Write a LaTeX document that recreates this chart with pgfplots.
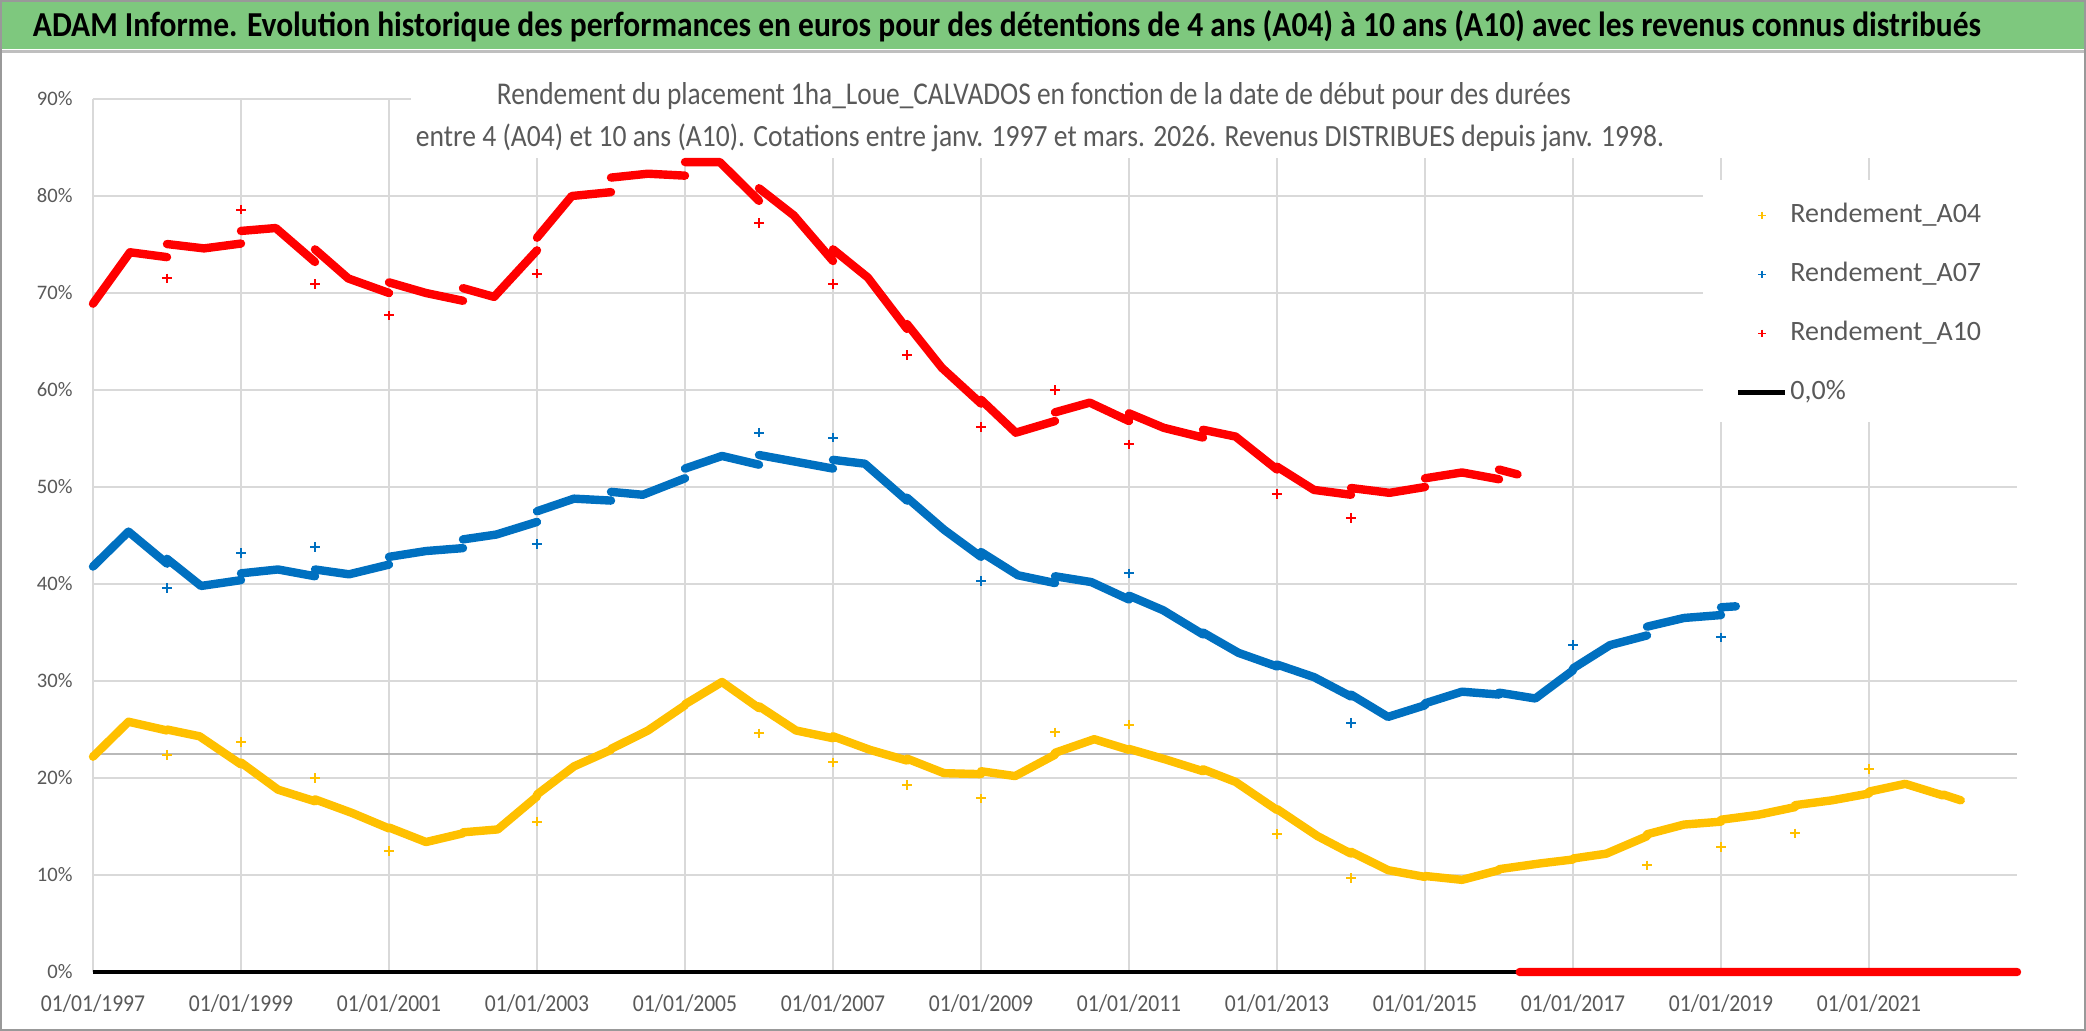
\documentclass[border=0pt]{standalone}
\usepackage{pgfplots}
\pgfplotsset{compat=1.18}
\usepackage{fontspec}
\setmainfont{Carlito}
\definecolor{ttl}{RGB}{126,200,126}
\definecolor{txt}{RGB}{89,89,89}
\definecolor{grd}{RGB}{217,217,217}
\definecolor{cA}{RGB}{255,192,0}
\definecolor{cB}{RGB}{0,112,192}
\definecolor{cC}{RGB}{255,0,0}
\newcommand{\xl}[1]{\scalebox{1}[1.12]{#1}}

\begin{document}
\begin{tikzpicture}
% frame and title bar (1 px of the reference = 0.5pt)
\begin{scope}[x=0.5pt,y=-0.5pt]
\useasboundingbox (0,0) rectangle (2086,1031);
\fill[white] (0,0) rectangle (2086,1031);
\fill[ttl] (0,0) rectangle (2086,49);
\draw[gray!50, line width=1.5pt] (0,52) -- (2086,52);
\draw[gray!80, line width=1pt] (1,1) rectangle (2085,1030);
\end{scope}

\begin{axis}[
  at={(46.5pt,-486pt)}, anchor=south west,
  width=962pt, height=436.5pt, scale only axis,
  xmin=1997, xmax=2023, ymin=0, ymax=90,
  xtick={1997,1999,...,2021},
  xticklabels={\xl{01/01/1997},\xl{01/01/1999},\xl{01/01/2001},\xl{01/01/2003},\xl{01/01/2005},\xl{01/01/2007},\xl{01/01/2009},\xl{01/01/2011},\xl{01/01/2013},\xl{01/01/2015},\xl{01/01/2017},\xl{01/01/2019},\xl{01/01/2021}},
  ytick={0,10,...,90},
  yticklabel={\pgfmathprintnumber{\tick}\%},
  /pgf/number format/assume math mode=true,
  grid=major, major grid style={grd, line width=1pt},
  axis line style={draw=none}, tick style={draw=none},
  yticklabel style={font=\fontsize{10.3}{12}\selectfont, text=txt, anchor=east, inner sep=0pt, xshift=-10pt},
  xticklabel style={font=\fontsize{10.8}{12}\selectfont, text=txt, anchor=center, inner sep=0pt, yshift=-16pt},
  clip=false, unbounded coords=jump,
  legend cell align=left,
  legend image code/.code={\path (0pt,0pt) (23.5pt,0pt); \draw[#1] plot coordinates {(11.75pt,0pt)};},
  legend style={at={(rel axis cs:0.8537,0.885)}, anchor=north west, draw=none, fill=none,
    inner sep=0pt, row sep=14pt, font=\fontsize{14}{16}\selectfont, text=txt,
    nodes={inner sep=1.25pt, text height=10pt, text depth=3pt}},
]
% white boxes behind the title and the legend
\fill[white] (axis cs:2001.3,83.9) rectangle (axis cs:2023.3,91);
\fill[white] (axis cs:2018.76,56.7) rectangle (axis cs:2023.3,81.65);

\addplot[gray!55, line width=1pt, forget plot] coordinates {(1997,22.5) (2023,22.5)};
\addplot[black, line width=2.2pt, forget plot] coordinates {(1997,0) (2023,0)};

% Rendement_A04
\addplot[cA, line width=4.2pt, line cap=round, line join=round, forget plot] coordinates {
(1997.0,22.2) (1997.48,25.8) (1998.0,24.9) (1998.0,nan)
(1998.0,25.0) (1998.44,24.3) (1999.0,21.4) (1999.0,nan)
(1999.0,21.6) (1999.5,18.8) (2000.0,17.6) (2000.0,nan)
(2000.0,17.8) (2000.5,16.4) (2001.0,14.8) (2001.0,nan)
(2001.0,14.9) (2001.5,13.4) (2002.0,14.3) (2002.0,nan)
(2002.0,14.4) (2002.47,14.7) (2003.0,18.1) (2003.0,nan)
(2003.0,18.3) (2003.5,21.2) (2004.0,22.9) (2004.0,nan)
(2004.0,23.0) (2004.5,24.9) (2005.0,27.5) (2005.0,nan)
(2005.0,27.6) (2005.5,29.9) (2006.0,27.2) (2006.0,nan)
(2006.0,27.4) (2006.5,24.9) (2007.0,24.1) (2007.0,nan)
(2007.0,24.3) (2007.5,22.9) (2008.0,21.8) (2008.0,nan)
(2008.0,22.0) (2008.5,20.5) (2009.0,20.4) (2009.0,nan)
(2009.0,20.7) (2009.46,20.2) (2010.0,22.4) (2010.0,nan)
(2010.0,22.6) (2010.53,24.0) (2011.0,22.9) (2011.0,nan)
(2011.0,23.0) (2011.5,21.9) (2012.0,20.7) (2012.0,nan)
(2012.0,20.9) (2012.44,19.6) (2013.0,16.7) (2013.0,nan)
(2013.0,16.8) (2013.55,14.0) (2014.0,12.2) (2014.0,nan)
(2014.0,12.4) (2014.5,10.5) (2015.0,9.8) (2015.0,nan)
(2015.0,9.9) (2015.5,9.5) (2016.0,10.5) (2016.0,nan)
(2016.0,10.6) (2016.56,11.2) (2017.0,11.6) (2017.0,nan)
(2017.0,11.7) (2017.45,12.2) (2018.0,14.0) (2018.0,nan)
(2018.0,14.2) (2018.5,15.2) (2019.0,15.5) (2019.0,nan)
(2019.0,15.7) (2019.5,16.2) (2020.0,17.0) (2020.0,nan)
(2020.0,17.2) (2020.5,17.7) (2021.0,18.4) (2021.0,nan)
(2021.0,18.6) (2021.49,19.4) (2022.0,18.2) (2022.0,nan)
(2022.0,18.3) (2022.24,17.7)
};
\addplot[cA, only marks, mark=+, mark size=2.4pt, mark options={line width=1pt}, forget plot] coordinates {
(1998,22.4) (1999,23.7) (2000,20.0) (2001,12.5) (2003,15.5) (2006,24.6) (2007,21.6)
(2008,19.3) (2009,17.9) (2010,24.7) (2011,25.5) (2013,14.2) (2014,9.7) (2018,11.0)
(2019,12.9) (2020,14.3) (2021,20.9)
};

% Rendement_A07
\addplot[cB, line width=4.2pt, line cap=round, line join=round, forget plot] coordinates {
(1997.0,41.8) (1997.48,45.4) (1998.0,42.1) (1998.0,nan)
(1998.0,42.6) (1998.46,39.8) (1999.0,40.4) (1999.0,nan)
(1999.0,41.1) (1999.5,41.5) (2000.0,40.8) (2000.0,nan)
(2000.0,41.5) (2000.46,41.0) (2001.0,42.0) (2001.0,nan)
(2001.0,42.8) (2001.5,43.4) (2002.0,43.7) (2002.0,nan)
(2002.0,44.6) (2002.45,45.1) (2003.0,46.4) (2003.0,nan)
(2003.0,47.5) (2003.5,48.8) (2004.0,48.6) (2004.0,nan)
(2004.0,49.5) (2004.43,49.2) (2005.0,50.9) (2005.0,nan)
(2005.0,51.9) (2005.5,53.2) (2006.0,52.3) (2006.0,nan)
(2006.0,53.3) (2006.5,52.6) (2007.0,51.9) (2007.0,nan)
(2007.0,52.8) (2007.43,52.4) (2008.0,48.6) (2008.0,nan)
(2008.0,48.9) (2008.5,45.6) (2009.0,42.8) (2009.0,nan)
(2009.0,43.3) (2009.5,40.9) (2010.0,40.1) (2010.0,nan)
(2010.0,40.8) (2010.49,40.2) (2011.0,38.4) (2011.0,nan)
(2011.0,38.8) (2011.46,37.3) (2012.0,34.8) (2012.0,nan)
(2012.0,35.0) (2012.48,32.9) (2013.0,31.5) (2013.0,nan)
(2013.0,31.7) (2013.5,30.4) (2014.0,28.4) (2014.0,nan)
(2014.0,28.6) (2014.5,26.3) (2015.0,27.5) (2015.0,nan)
(2015.0,27.7) (2015.5,28.9) (2016.0,28.6) (2016.0,nan)
(2016.0,28.8) (2016.49,28.2) (2017.0,31.1) (2017.0,nan)
(2017.0,31.3) (2017.5,33.7) (2018.0,34.7) (2018.0,nan)
(2018.0,35.6) (2018.5,36.5) (2019.0,36.8) (2019.0,nan)
(2019.0,37.6) (2019.2,37.7)
};
\addplot[cB, only marks, mark=+, mark size=2.4pt, mark options={line width=1pt}, forget plot] coordinates {
(1998,39.6) (1999,43.2) (2000,43.8) (2003,44.1) (2006,55.6) (2007,55.1) (2009,40.3)
(2011,41.1) (2014,25.7) (2017,33.7) (2019,34.5)
};

% Rendement_A10
\addplot[cC, line width=4.2pt, line cap=round, line join=round, forget plot] coordinates {
(1997.0,68.9) (1997.5,74.2) (1998.0,73.7) (1998.0,nan)
(1998.0,75.05) (1998.5,74.6) (1999.0,75.1) (1999.0,nan)
(1999.0,76.4) (1999.47,76.7) (2000.0,73.2) (2000.0,nan)
(2000.0,74.5) (2000.45,71.5) (2001.0,70.0) (2001.0,nan)
(2001.0,71.1) (2001.5,70.0) (2002.0,69.2) (2002.0,nan)
(2002.0,70.5) (2002.42,69.6) (2003.0,74.4) (2003.0,nan)
(2003.0,75.7) (2003.47,80.0) (2004.0,80.4) (2004.0,nan)
(2004.0,81.9) (2004.5,82.3) (2005.0,82.1) (2005.0,nan)
(2005.0,83.5) (2005.47,83.5) (2006.0,79.5) (2006.0,nan)
(2006.0,80.8) (2006.47,78.0) (2007.0,73.3) (2007.0,nan)
(2007.0,74.5) (2007.47,71.6) (2008.0,66.3) (2008.0,nan)
(2008.0,66.8) (2008.47,62.3) (2009.0,58.6) (2009.0,nan)
(2009.0,59.0) (2009.47,55.6) (2010.0,56.8) (2010.0,nan)
(2010.0,57.7) (2010.47,58.7) (2011.0,56.8) (2011.0,nan)
(2011.0,57.6) (2011.47,56.1) (2012.0,55.1) (2012.0,nan)
(2012.0,55.9) (2012.44,55.2) (2013.0,51.8) (2013.0,nan)
(2013.0,52.1) (2013.5,49.7) (2014.0,49.2) (2014.0,nan)
(2014.0,49.9) (2014.52,49.4) (2015.0,50.0) (2015.0,nan)
(2015.0,50.9) (2015.5,51.5) (2016.0,50.8) (2016.0,nan)
(2016.0,51.8) (2016.25,51.3) (2016.25,nan)
(2016.28,0) (2023.0,0)
};
\addplot[cC, only marks, mark=+, mark size=2.4pt, mark options={line width=1pt}, forget plot] coordinates {
(1998,71.5) (1999,78.6) (2000,70.9) (2001,67.7) (2003,72.0) (2006,77.2) (2007,70.9)
(2008,63.6) (2009,56.2) (2010,60.0) (2011,54.4) (2013,49.3) (2014,46.8)
};

% legend
\addlegendimage{only marks, mark=+, cA, mark size=1.9pt, mark options={line width=0.8pt}}
\addlegendentry{Rendement\_A04}
\addlegendimage{only marks, mark=+, cB, mark size=1.9pt, mark options={line width=0.8pt}}
\addlegendentry{Rendement\_A07}
\addlegendimage{only marks, mark=+, cC, mark size=1.9pt, mark options={line width=0.8pt}}
\addlegendentry{Rendement\_A10}
\addlegendimage{legend image code/.code={\draw[black, line width=2.5pt] (0pt,0pt) -- (23.5pt,0pt);}}
\addlegendentry{0,0\%}
\end{axis}

% chart title and subtitle, drawn over the white boxes
\begin{scope}[x=0.5pt,y=-0.5pt]
\node[anchor=base, inner sep=0pt, font=\bfseries\fontsize{16}{18}\selectfont] at (1007,37)
  {\resizebox{974pt}{13pt}{ADAM Informe. Evolution historique des performances en euros pour des détentions de 4 ans (A04) à 10 ans (A10) avec les revenus connus distribués}};
\node[anchor=base, inner sep=0pt, text=txt, font=\fontsize{14}{16}\selectfont] at (1034,105)
  {\resizebox{537pt}{11pt}{Rendement du placement 1ha\_Loue\_CALVADOS en fonction de la date de début pour des durées}};
\node[anchor=base, inner sep=0pt, text=txt, font=\fontsize{14}{16}\selectfont] at (1040,147)
  {\resizebox{624pt}{11.3pt}{entre 4 (A04) et 10 ans (A10). Cotations entre janv. 1997 et mars. 2026. Revenus DISTRIBUES depuis janv. 1998.}};
\end{scope}
\end{tikzpicture}
\end{document}
